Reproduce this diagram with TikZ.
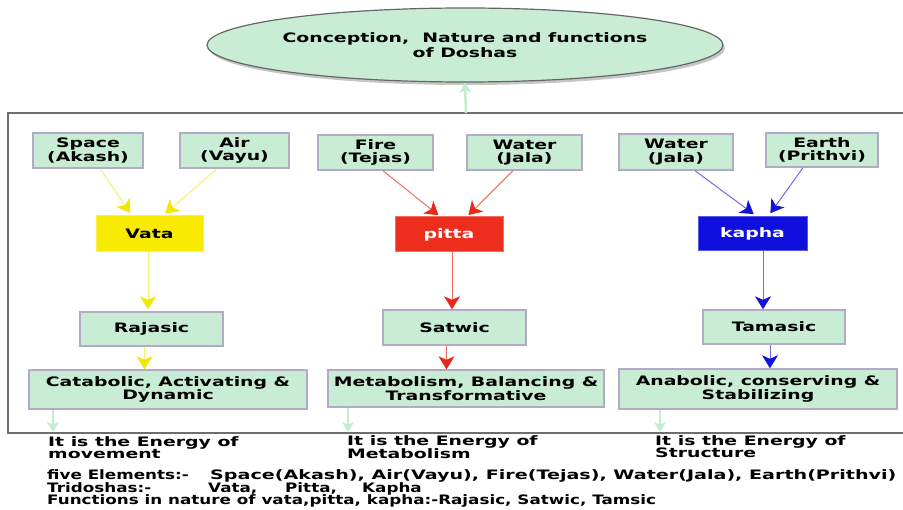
\documentclass[tikz,border=0pt]{standalone}
\usepackage{fontspec}
\setmainfont{DejaVu Sans}[FakeStretch=1.45]
\newfontfamily\legendfont{DejaVu Sans}[FakeStretch=1.29]
\newfontfamily\legendwide{DejaVu Sans}[FakeStretch=1.47]
\usetikzlibrary{shapes.geometric,arrows.meta,shadows}

\definecolor{boxfill}{RGB}{200,237,212}
\definecolor{boxline}{RGB}{178,170,198}
\definecolor{vatafill}{RGB}{248,234,0}
\definecolor{pittafill}{RGB}{238,46,28}
\definecolor{kaphafill}{RGB}{16,16,222}
\definecolor{yline}{RGB}{242,240,110}
\definecolor{yhead}{RGB}{240,232,0}
\definecolor{rline}{RGB}{240,110,96}
\definecolor{rhead}{RGB}{232,40,24}
\definecolor{bline}{RGB}{110,110,224}
\definecolor{bhead}{RGB}{20,20,216}
\definecolor{gline}{RGB}{196,236,206}
\definecolor{framecol}{RGB}{110,110,110}

\tikzset{
  txt/.style={font=\fontsize{13}{13.5}\selectfont\bfseries, align=center, inner sep=0pt},
  elbox/.style={txt, draw=boxline, line width=1.4pt, fill=boxfill},
  dosha/.style={txt, draw=#1!70!white, line width=1pt, fill=#1},
  yarrow/.style={draw=yline, line width=1pt, -{Stealth[length=13pt,width=16pt,inset=3.5pt,fill=yhead,color=yhead]}},
  rarrow/.style={draw=rline, line width=1pt, -{Stealth[length=13pt,width=16pt,inset=3.5pt,fill=rhead,color=rhead]}},
  barrow/.style={draw=bline, line width=1pt, -{Stealth[length=13pt,width=16pt,inset=3.5pt,fill=bhead,color=bhead]}},
  garrow/.style={draw=gline, line width=2.5pt, -{Stealth[length=10pt,width=12pt,inset=2.5pt]}},
  note/.style={font=\fontsize{13}{12.5}\selectfont\bfseries, align=left, inner sep=0pt, anchor=north west},
  legend/.style={font=\legendfont\fontsize{13}{12.5}\selectfont\bfseries, inner sep=0pt, anchor=base west},
}

\begin{document}
\begin{tikzpicture}[x=1pt,y=-1pt]
\useasboundingbox (0,0) rectangle (903,510);

% title ellipse
\node[txt, font=\fontsize{13}{15}\selectfont\bfseries, ellipse, draw=black!60, line width=1.2pt, fill=boxfill,
      minimum width=480pt, minimum height=74pt,
      drop shadow={shadow xshift=2pt, shadow yshift=-3pt, fill=black!45}]
  (el) at (465,45) {Conception,~ Nature and functions\\of Doshas};

% outer frame (open to the right)
\draw[framecol, line width=1.3pt] (912,113) -- (8,113) -- (8,433) -- (912,433);
\coordinate (ftop) at (466,113);
\draw[garrow] (ftop) -- (el.south);

% five elements
\node[elbox, minimum width=110pt, minimum height=35pt] (sp)    at (88,150.5)   {Space\\(Akash)};
\node[elbox, minimum width=109pt, minimum height=35pt] (air)   at (234.5,150.5){Air\\(Vayu)};
\node[elbox, minimum width=115pt, minimum height=35pt] (fire)  at (375.5,152.5){Fire\\(Tejas)};
\node[elbox, minimum width=115pt, minimum height=35pt] (wat1)  at (524.5,152.5){Water\\(Jala)};
\node[elbox, minimum width=114pt, minimum height=36pt] (wat2)  at (676,152)    {Water\\(Jala)};
\node[elbox, minimum width=112pt, minimum height=34pt] (earth) at (822,150)    {Earth\\(Prithvi)};

% doshas
\node[dosha=vatafill, minimum width=107pt, minimum height=36pt] (vata)  at (149.5,234) {Vata};
\node[dosha=pittafill, text=white, minimum width=108pt, minimum height=35pt] (pitta) at (449,234.5) {pitta};
\node[dosha=kaphafill, text=white, minimum width=109pt, minimum height=34pt] (kapha) at (752.5,234) {kapha};

% gunas
\node[elbox, minimum width=143pt, minimum height=34pt] (raj) at (151.5,329) {Rajasic};
\node[elbox, minimum width=143pt, minimum height=35pt] (sat) at (454.5,327.5) {Satwic};
\node[elbox, minimum width=142pt, minimum height=34pt] (tam) at (774,327) {Tamasic};

% functions
\node[elbox, minimum width=278pt, minimum height=39pt] (cat) at (168,389.5) {Catabolic, Activating \&\\Dynamic};
\node[elbox, minimum width=276pt, minimum height=37pt] (met) at (466,388.5) {Metabolism, Balancing \&\\Transformative};
\node[elbox, minimum width=278pt, minimum height=40pt] (ana) at (758,389) {Anabolic, conserving \&\\Stabilizing};

% element -> dosha
\draw[yarrow, shorten >=3pt] ([xshift=12pt]sp.south)    -- ([xshift=-17.5pt]vata.north);
\draw[yarrow, shorten >=3pt] ([xshift=-17.5pt]air.south) -- ([xshift=13.5pt]vata.north);
\draw[rarrow, shorten >=2pt] ([xshift=7.5pt]fire.south)  -- ([xshift=-9pt]pitta.north);
\draw[rarrow, shorten >=2pt] ([xshift=-11.5pt]wat1.south)-- ([xshift=18pt]pitta.north);
\draw[barrow, shorten >=4pt] ([xshift=19pt]wat2.south)   -- ([xshift=4.5pt]kapha.north);
\draw[barrow, shorten >=4pt] ([xshift=-19pt]earth.south) -- ([xshift=15.5pt]kapha.north);

% dosha -> guna
\draw[yarrow, shorten >=2pt] ([xshift=-1.5pt]vata.south) -- ([xshift=-1.5pt]vata.south |- raj.north);
\draw[rarrow] ([xshift=3pt]pitta.south) -- ([xshift=3pt]pitta.south |- sat.north);
\draw[barrow] ([xshift=10.5pt]kapha.south) -- ([xshift=10.5pt]kapha.south |- tam.north);

% guna -> function
\draw[yarrow] ([xshift=-7pt]raj.south) -- ([xshift=-7pt]raj.south |- cat.north);
\draw[rarrow] ([xshift=-8pt]sat.south) -- ([xshift=-8pt]sat.south |- met.north);
\draw[barrow] ([xshift=-4pt]tam.south) -- ([xshift=-4pt]tam.south |- ana.north);

% function -> frame edge
\coordinate (e1) at (53,432);
\coordinate (e2) at (348,432);
\coordinate (e3) at (660,432);
\draw[garrow] (cat.south west -| e1) -- (e1);
\draw[garrow] (met.south west -| e2) -- (e2);
\draw[garrow] (ana.south west -| e3) -- (e3);

% energy notes
\node[note] (n1) at (48,436)  {It is the Energy of\\movement};
\node[note] (n2) at (347,435) {It is the Energy of\\Metabolism};
\node[note] (n3) at (655,435) {It is the Energy of\\Structure};

% legend
\node[legend] (l1a) at (47,480)  {five Elements:-};
\node[legend, font=\legendwide\fontsize{13}{12.5}\selectfont\bfseries] (l1b) at (210,480)
  {Space(Akash), Air(Vayu), Fire(Tejas), Water(Jala), Earth(Prithvi)};
\node[legend] (l2a) at (47,492.5)  {Tridoshas:-};
\node[legend] (l2b) at (208,492.5) {Vata,};
\node[legend] (l2c) at (285,492.5) {Pitta,};
\node[legend] (l2d) at (362,492.5) {Kapha};
\node[legend] (l3)  at (47,505)  {Functions in nature of vata,pitta, kapha:-Rajasic, Satwic, Tamsic};
\end{tikzpicture}
\end{document}
